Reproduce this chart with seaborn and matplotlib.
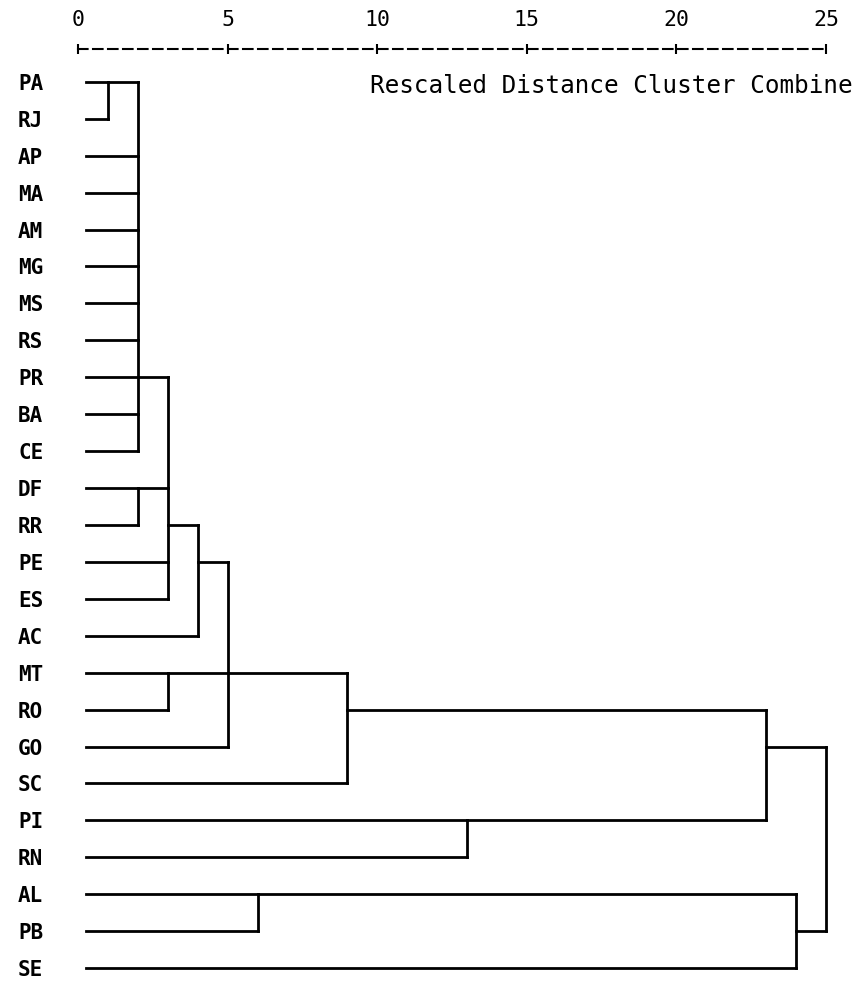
import matplotlib
matplotlib.use("Agg")
import matplotlib.pyplot as plt
import seaborn as sns
import pandas as pd

# ---- data -------------------------------------------------------------
labels = ["PA", "RJ", "AP", "MA", "AM", "MG", "MS", "RS", "PR", "BA", "CE",
          "DF", "RR", "PE", "ES", "AC", "MT", "RO", "GO", "SC", "PI", "RN",
          "AL", "PB", "SE"]

# clusters, in merge order (c0, c1, ...); children are leaf labels or earlier clusters
merge_children = [
    ["PA", "RJ"],                                              # c0
    ["c0", "AP", "MA", "AM", "MG", "MS", "RS", "PR", "BA", "CE"],  # c1
    ["DF", "RR"],                                              # c2
    ["c1", "c2", "PE", "ES"],                                  # c3
    ["c3", "AC"],                                              # c4
    ["MT", "RO"],                                              # c5
    ["c4", "c5", "GO"],                                        # c6
    ["c6", "SC"],                                              # c7
    ["PI", "RN"],                                              # c8
    ["c7", "c8"],                                              # c9
    ["AL", "PB"],                                              # c10
    ["c10", "SE"],                                             # c11
    ["c9", "c11"],                                             # c12
]
merge_heights = [1, 2, 2, 3, 4, 3, 5, 9, 13, 23, 6, 24, 25]
# row on which each cluster's line continues towards its parent
merge_anchor = ["PA", "PR", "DF", "RR", "PE", "MT", "MT", "RO", "PI", "GO",
                "AL", "PB", "GO"]

axis_ticks = [0, 5, 10, 15, 20, 25]
axis_title = "Rescaled Distance Cluster Combine"

# ---- build segments ------------------------------------------------------
LEAF_START = 0.28
row = {lab: i for i, lab in enumerate(labels)}
info = {}  # id -> (anchor row, height)
for lab in labels:
    info[lab] = (row[lab], LEAF_START)

segs = []
sid = 0
for k, (children, h, anc) in enumerate(zip(merge_children, merge_heights, merge_anchor)):
    rows_ = []
    for ch in children:
        r, x0 = info[ch]
        segs.append(pd.DataFrame({"x": [x0, h], "y": [r, r], "seg": sid}))
        sid += 1
        rows_.append(r)
    segs.append(pd.DataFrame({"x": [h, h], "y": [min(rows_), max(rows_)], "seg": sid}))
    sid += 1
    info[f"c{k}"] = (row[anc], h)
df = pd.concat(segs, ignore_index=True)

# ---- plot -----------------------------------------------------------------
sns.set_theme(style="white")
plt.rcParams["font.family"] = ["DejaVu Sans Mono", "DejaVu Sans"]

W, H = 864, 981
fig = plt.figure(figsize=(W / 100, H / 100), dpi=100)
ax = fig.add_axes([78 / W, 0, 748 / W, 932 / H])

sns.lineplot(data=df, x="x", y="y", units="seg", estimator=None, sort=False,
             color="black", linewidth=2.0, ax=ax, legend=False)
for ln in ax.lines:
    ln.set_clip_on(False)
    ln.set_solid_capstyle("projecting")

ax.set_xlim(0, 25)
ax.set_ylim(24.35, -0.889)

ax.xaxis.tick_top()
ax.set_xticks(axis_ticks)
ax.set_xticklabels([str(t) for t in axis_ticks], fontsize=15.5)
ax.tick_params(axis="x", direction="inout", length=7.5, width=1.5,
               color="black", pad=10, labelcolor="black", top=True, bottom=False)
ax.set_yticks(range(len(labels)))
ax.set_yticklabels(labels, fontsize=15, fontweight="bold")
ax.tick_params(axis="y", length=0, pad=25, labelcolor="black", left=True)

for s in ["left", "right", "bottom"]:
    ax.spines[s].set_visible(False)
ax.spines["top"].set_visible(True)
ax.spines["top"].set_color("black")
ax.spines["top"].set_linewidth(1.5)
ax.spines["top"].set_linestyle((0, (4.6, 2.6)))

ax.set_xlabel("")
ax.set_ylabel("")
ax.text(9.76, 0.1, axis_title, fontsize=17.5, ha="left", va="center", color="black")

fig.savefig("out.png", dpi=100, facecolor="white")
